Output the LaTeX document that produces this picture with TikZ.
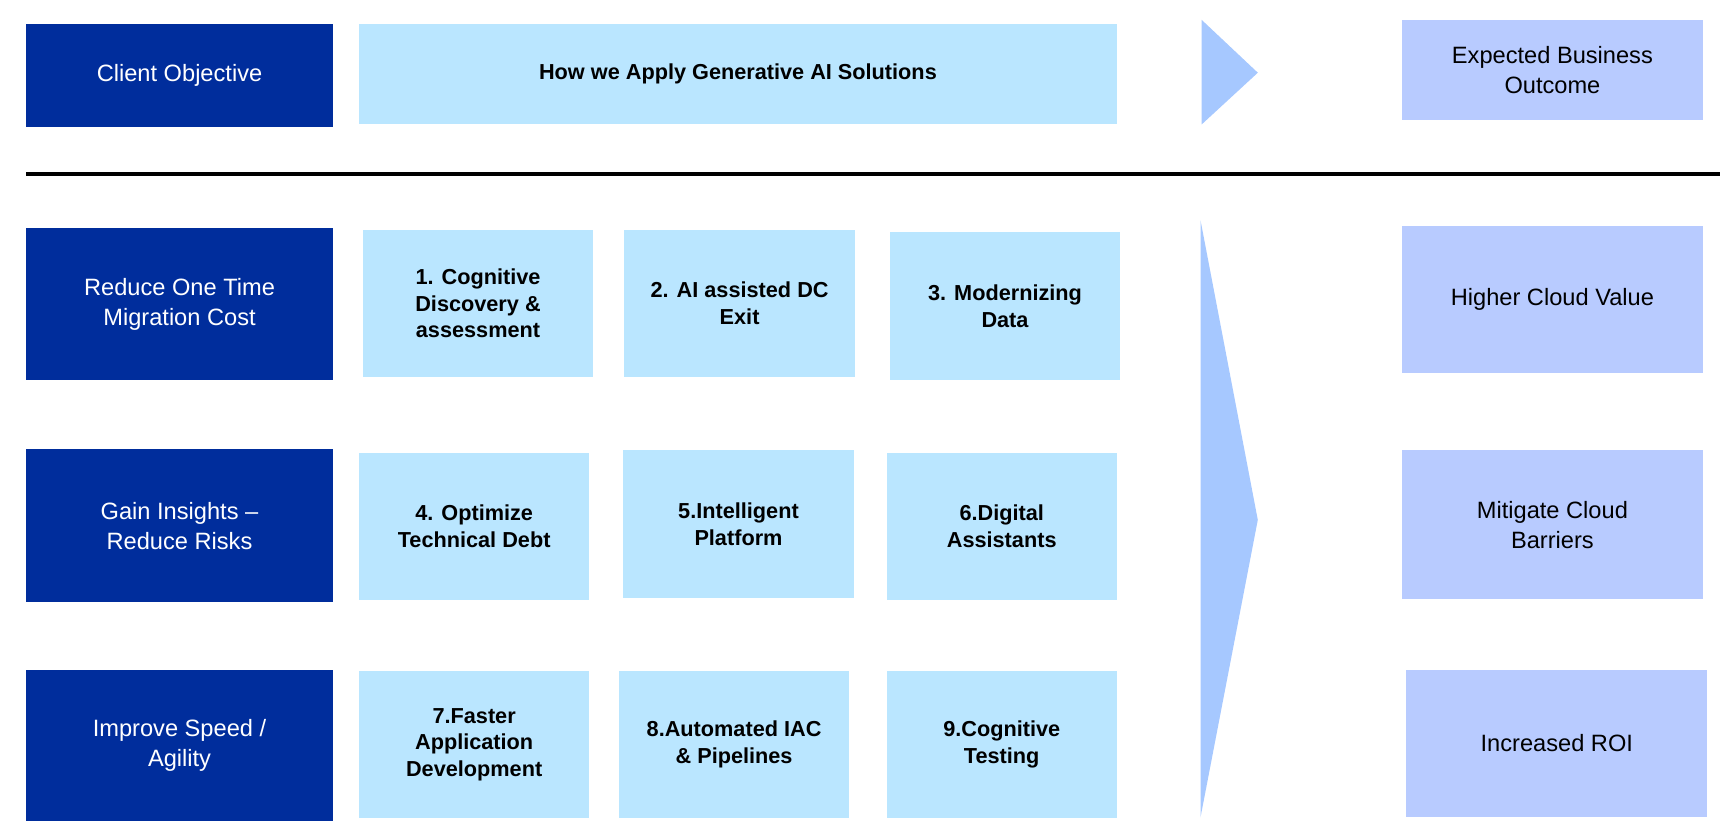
\documentclass[tikz,border=0pt]{standalone}
\usepackage{fontspec}
\setmainfont{Liberation Sans}
\definecolor{dk}{HTML}{002D9C}
\definecolor{lt}{HTML}{BAE6FF}
\definecolor{oc}{HTML}{B8CBFF}
\definecolor{ar}{HTML}{A6C8FF}
\tikzset{
 dkbox/.style={fill=dk,text=white,align=center,font=\fontsize{6.1}{7.7}\selectfont},
 ltbox/.style={fill=lt,text=black,align=center,font=\bfseries\fontsize{5.6}{6.9}\selectfont},
 ocbox/.style={fill=oc,text=black,align=center,font=\fontsize{6.1}{7.7}\selectfont}
}
\newcommand{\bx}[7]{\path[#1] (#3,#4) rectangle (#5,#6); \node[#1,fill=none] (#2) at ({(#3+#5)/2},{(#4+#6)/2}) {#7};}
\begin{document}
\begin{tikzpicture}[x=0.01cm,y=-0.01cm]
\useasboundingbox[fill=white] (0,0) rectangle (1568,759);
\bx{dkbox}{co}{24}{22}{302}{115}{Client Objective}
\bx{ltbox}{how}{326}{22}{1014}{113}{How we Apply Generative AI Solutions}
\fill[ar] (1091,18) -- (1142,66) -- (1091,113) -- cycle;
\bx{ocbox}{exp}{1273}{18}{1546}{109}{Expected Business\\Outcome}
\draw[line width=0.8pt] (24,158) -- (1562,158);
\bx{dkbox}{r1}{24}{207}{302}{345}{Reduce One Time\\Migration Cost}
\bx{ltbox}{a1}{330}{209}{538}{342}{1. Cognitive\\Discovery \&\\assessment}
\bx{ltbox}{a2}{567}{209}{776}{342}{2. AI assisted DC\\Exit}
\bx{ltbox}{a3}{808}{211}{1017}{345}{3. Modernizing\\Data}
\bx{ocbox}{o1}{1273}{205}{1546}{339}{Higher Cloud Value}
\bx{dkbox}{r2}{24}{408}{302}{547}{Gain Insights --\\Reduce Risks}
\bx{ltbox}{a4}{326}{411}{535}{545}{4. Optimize\\Technical Debt}
\bx{ltbox}{a5}{566}{409}{775}{543}{5.Intelligent\\Platform}
\bx{ltbox}{a6}{805}{411}{1014}{545}{6.Digital\\Assistants}
\bx{ocbox}{o2}{1273}{409}{1546}{544}{Mitigate Cloud\\Barriers}
\bx{dkbox}{r3}{24}{608}{302}{745}{Improve Speed /\\Agility}
\bx{ltbox}{a7}{326}{609}{535}{743}{7.Faster\\Application\\Development}
\bx{ltbox}{a8}{562}{609}{771}{743}{8.Automated IAC\\\& Pipelines}
\bx{ltbox}{a9}{805}{609}{1014}{743}{9.Cognitive\\Testing}
\bx{ocbox}{o3}{1277}{608}{1550}{742}{Increased ROI}
\fill[ar] (1090,200) -- (1142,472) -- (1090,742) -- cycle;
\end{tikzpicture}
\end{document}
